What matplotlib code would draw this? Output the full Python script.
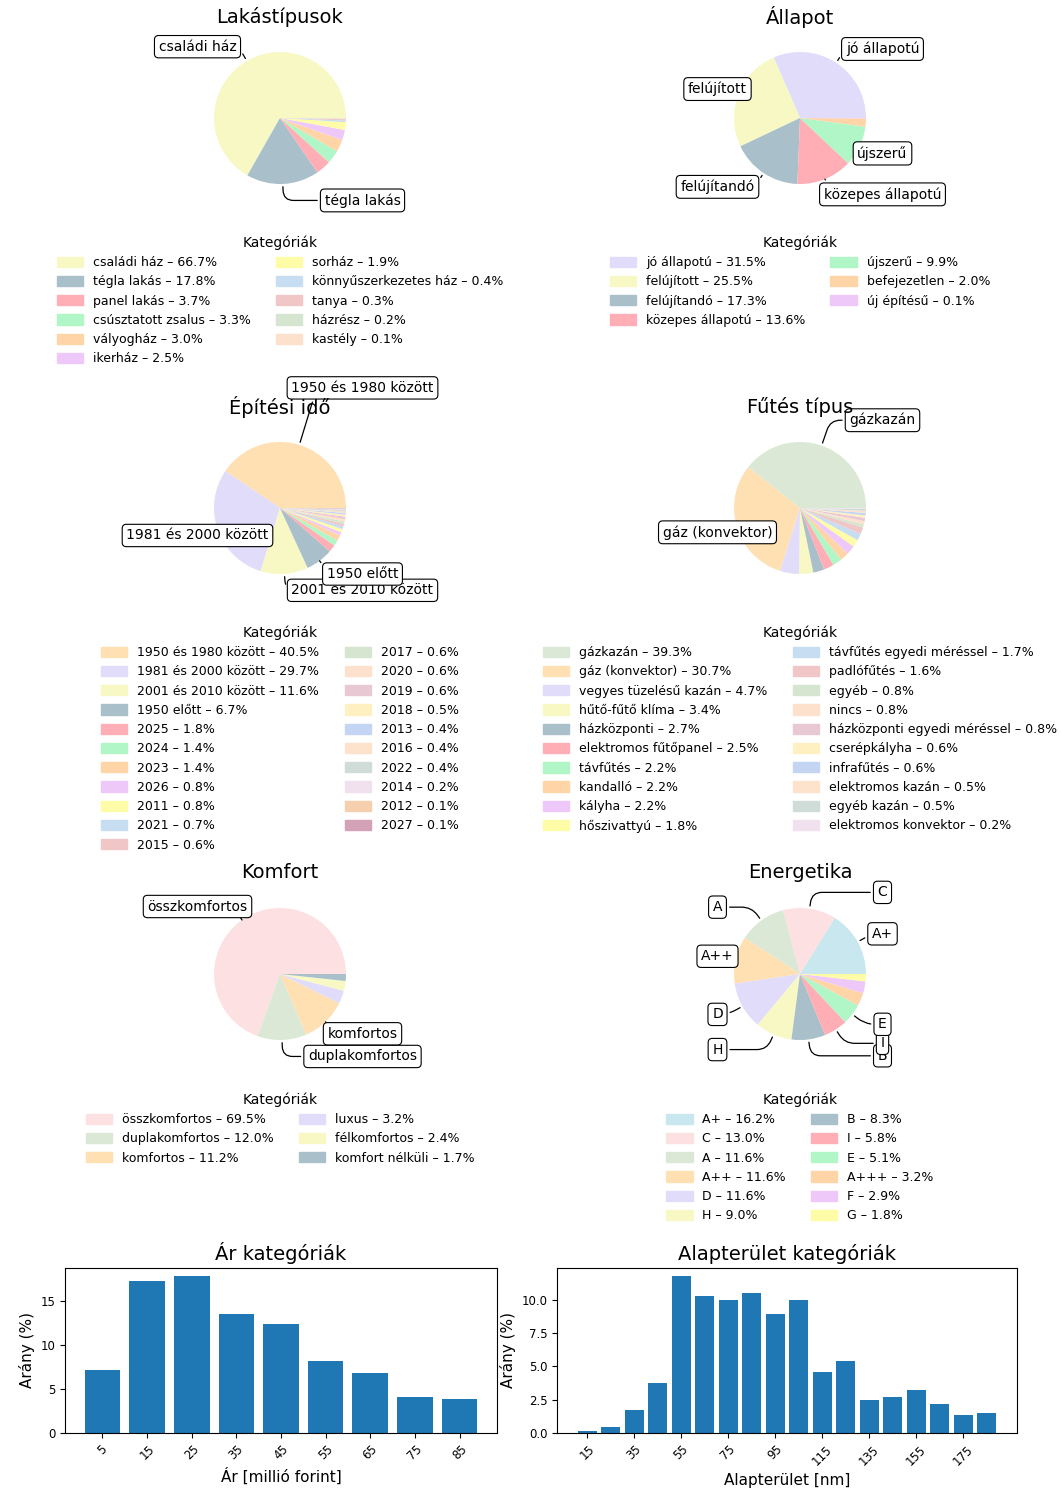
import numpy as np
import matplotlib.pyplot as plt
from matplotlib.patches import Patch

plt.rcParams['font.family'] = ['DejaVu Sans']

# --- adatok ---
lakas_nevek = ['családi ház', 'tégla lakás', 'panel lakás', 'csúsztatott zsalus', 'vályogház',
               'ikerház', 'sorház', 'könnyűszerkezetes ház', 'tanya', 'házrész', 'kastély']
lakas_pct = [66.7, 17.8, 3.7, 3.3, 3.0, 2.5, 1.9, 0.4, 0.3, 0.2, 0.1]

allapot_nevek = ['jó állapotú', 'felújított', 'felújítandó', 'közepes állapotú', 'újszerű',
                 'befejezetlen', 'új építésű']
allapot_pct = [31.5, 25.5, 17.3, 13.6, 9.9, 2.0, 0.1]

epites_nevek = ['1950 és 1980 között', '1981 és 2000 között', '2001 és 2010 között', '1950 előtt',
                '2025', '2024', '2023', '2026', '2011', '2021', '2015', '2017', '2020', '2019',
                '2018', '2013', '2016', '2022', '2014', '2012', '2027']
epites_pct = [40.5, 29.7, 11.6, 6.7, 1.8, 1.4, 1.4, 0.8, 0.8, 0.7, 0.6, 0.6, 0.6, 0.6,
              0.5, 0.4, 0.4, 0.4, 0.2, 0.1, 0.1]

futes_nevek = ['gázkazán', 'gáz (konvektor)', 'vegyes tüzelésű kazán', 'hűtő-fűtő klíma',
               'házközponti', 'elektromos fűtőpanel', 'távfűtés', 'kandalló', 'kályha',
               'hőszivattyú', 'távfűtés egyedi méréssel', 'padlófűtés', 'egyéb', 'nincs',
               'házközponti egyedi méréssel', 'cserépkályha', 'infrafűtés', 'elektromos kazán',
               'egyéb kazán', 'elektromos konvektor']
futes_pct = [39.3, 30.7, 4.7, 3.4, 2.7, 2.5, 2.2, 2.2, 2.2, 1.8, 1.7, 1.6, 0.8, 0.8,
             0.8, 0.6, 0.6, 0.5, 0.5, 0.2]

komfort_nevek = ['összkomfortos', 'duplakomfortos', 'komfortos', 'luxus', 'félkomfortos',
                 'komfort nélküli']
komfort_pct = [69.5, 12.0, 11.2, 3.2, 2.4, 1.7]

energia_nevek = ['A+', 'C', 'A', 'A++', 'D', 'H', 'B', 'I', 'E', 'A+++', 'F', 'G']
energia_pct = [16.2, 13.0, 11.6, 11.6, 11.6, 9.0, 8.3, 5.8, 5.1, 3.2, 2.9, 1.8]

ar_kat = [5, 15, 25, 35, 45, 55, 65, 75, 85]
ar_arany = [7.1, 17.2, 17.8, 13.5, 12.4, 8.1, 6.8, 4.1, 3.8]

terulet_kat = [15, 25, 35, 45, 55, 65, 75, 85, 95, 105, 115, 125, 135, 145, 155, 165, 175, 185]
terulet_arany = [0.12, 0.47, 1.74, 3.76, 11.8, 10.25, 9.98, 10.55, 8.93, 9.98, 4.6, 5.37,
                 2.49, 2.71, 3.26, 2.21, 1.37, 1.47]

# közös pasztell paletta
paletta = ['#c9e7ef', '#fde0e1', '#dbe8d5', '#ffe0b2', '#e2dcfb', '#f8f8c4', '#a9bfca',
           '#ffaeb5', '#b0f6c6', '#ffd5a8', '#efc8fa', '#fffca8', '#c7ddf1', '#f0c6c7',
           '#d5e5cf', '#fde1cc', '#e8c8d3', '#fff0c2', '#c4d5f3', '#fde2cc', '#cfdcd8',
           '#f1e0ee', '#f5cfae', '#d3a2b6']

W, H = 1061, 1497
fig = plt.figure(figsize=(W / 100, H / 100), dpi=100)


def px_box(left, top, w, h):
    return [left / W, 1 - (top + h) / H, w / W, h / H]


R = 66
bbox_props = dict(boxstyle="round,pad=0.3", fc="w", ec="k", lw=0.8)


def pie_panel(cx, cy, cim, nevek, pct, offset, legend_top, y_fix=None):
    y_fix = y_fix or {}
    ax = fig.add_axes(px_box(cx - R, cy - R, 2 * R, 2 * R))
    colors = [paletta[(offset + i) % len(paletta)] for i in range(len(nevek))]
    wedges, _ = ax.pie(pct, colors=colors)
    ax.set_xlim(-1, 1)
    ax.set_ylim(-1, 1)
    ax.set_aspect('equal')
    total = sum(pct)
    for i, p in enumerate(wedges):
        if pct[i] / total * 100 < 5:
            continue
        ang = (p.theta2 - p.theta1) / 2. + p.theta1
        y = np.sin(np.deg2rad(ang))
        x = np.cos(np.deg2rad(ang))
        ty = y_fix.get(nevek[i], 1.25 * y)
        cs = f"angle,angleA=0,angleB={ang},rad=10"
        ax.annotate(nevek[i], xy=(x, y), xytext=(1.25 * np.sign(x), ty),
                    ha='center', va='center', fontsize=10, bbox=bbox_props,
                    arrowprops=dict(arrowstyle="-", connectionstyle=cs, lw=0.9),
                    annotation_clip=False)
    fig.text(cx / W, 1 - (cy - 101) / H, cim, ha='center', va='center', fontsize=14)
    handles = [Patch(color=c) for c in colors]
    labels = [f"{n} – {v:.1f}%" for n, v in zip(nevek, pct)]
    fig.legend(handles, labels, title='Kategóriák', ncol=2, loc='upper center',
               bbox_to_anchor=(cx / W, 1 - legend_top / H), frameon=False,
               fontsize=9, title_fontsize=10, labelspacing=0.5,
               handlelength=2.1, handleheight=0.9)


pie_panel(280, 118, 'Lakástípusok', lakas_nevek, lakas_pct, 5, 224)
pie_panel(800, 118, 'Állapot', allapot_nevek, allapot_pct, 4, 224)
pie_panel(280, 508, 'Építési idő', epites_nevek, epites_pct, 3, 614,
          y_fix={'1950 és 1980 között': 1.82})
pie_panel(800, 508, 'Fűtés típus', futes_nevek, futes_pct, 2, 614,
          y_fix={'gázkazán': 1.33})
pie_panel(280, 974, 'Komfort', komfort_nevek, komfort_pct, 1, 1081)
pie_panel(800, 974, 'Energetika', energia_nevek, energia_pct, 0, 1081)

# oszlopdiagramok
ax1 = fig.add_axes(px_box(65, 1268, 432, 165))
ax1.bar(ar_kat, ar_arany, width=8, color='#1f77b4')
ax1.set_xticks(ar_kat)
ax1.set_xticklabels([str(k) for k in ar_kat], rotation=45, fontsize=8.5)
ax1.tick_params(axis='y', labelsize=8.5)
ax1.set_title('Ár kategóriák', fontsize=14)
ax1.set_xlabel('Ár [millió forint]', fontsize=11)
ax1.set_ylabel('Arány (%)', fontsize=11)

ax2 = fig.add_axes(px_box(557, 1268, 460, 165))
ax2.bar(terulet_kat, terulet_arany, width=8, color='#1f77b4')
tk = terulet_kat[::2]
ax2.set_xticks(tk)
ax2.set_xticklabels([str(k) for k in tk], rotation=45, fontsize=8.5)
ax2.set_yticks([0, 2.5, 5, 7.5, 10])
ax2.tick_params(axis='y', labelsize=8.5)
ax2.set_title('Alapterület kategóriák', fontsize=14)
ax2.set_xlabel('Alapterület [nm]', fontsize=11)
ax2.set_ylabel('Arány (%)', fontsize=11)

fig.savefig('out.png', dpi=100)
